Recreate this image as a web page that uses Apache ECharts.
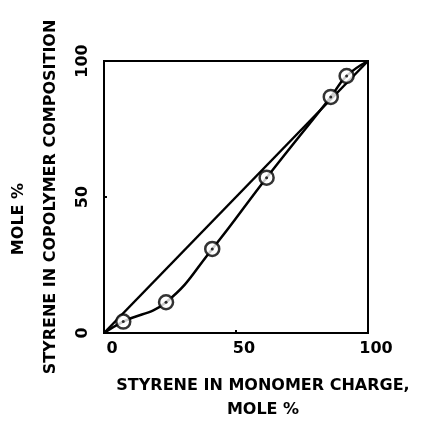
<!DOCTYPE html>
<html>
<head>
<meta charset="utf-8">
<script src="https://cdn.jsdelivr.net/npm/echarts@6/dist/echarts.min.js"></script>
<style>
  html, body { margin: 0; padding: 0; background: #fff; }
  #main { width: 428px; height: 429px; }
</style>
</head>
<body>
<div id="main"></div>
<script>
// measured points (styrene in charge vs. in copolymer, mole %)
const chargePct = [7.3, 23.5, 41.0, 61.6, 85.9, 91.9];
const copolymerPct = [4.2, 11.3, 30.9, 57.1, 86.8, 94.5];
const diagonal = [[0, 0], [100, 100]];
const axisTicks = [0, 50, 100];

const pts = chargePct.map((x, i) => [x, copolymerPct[i]]);
const curve = [[0, 0]].concat(pts, [[100, 100]]);

const font = 'DejaVu Sans';
const labelStyle = { color: '#000', fontFamily: font, fontWeight: 'bold', fontSize: 16 };

var myChart = echarts.init(document.getElementById('main'), null, { renderer: 'canvas' });
myChart.setOption({
  backgroundColor: '#fff',
  animation: false,
  grid: {
    left: 104, right: 60, top: 61, bottom: 96,
    outerBoundsMode: 'none', containLabel: false,
    show: true, borderColor: '#000', borderWidth: 2
  },
  xAxis: {
    type: 'value', min: 0, max: 100, interval: 50,
    name: 'STYRENE IN MONOMER CHARGE,\nMOLE %',
    nameLocation: 'middle', nameGap: 41,
    nameTextStyle: Object.assign({}, labelStyle, { lineHeight: 24, padding: [0, 0, 0, 54] }),
    axisLine: { lineStyle: { color: '#000', width: 2 } },
    axisTick: { inside: true, length: 3, lineStyle: { color: '#000', width: 2 } },
    splitLine: { show: false },
    axisLabel: Object.assign({}, labelStyle, { margin: 8, padding: [0, 0, 0, 16], formatter: v => axisTicks.indexOf(v) >= 0 ? String(v) : '' })
  },
  yAxis: {
    type: 'value', min: 0, max: 100, interval: 50,
    name: '{a|MOLE %}\n{b|STYRENE IN COPOLYMER COMPOSITION}',
    nameLocation: 'middle', nameGap: 33,
    nameTextStyle: Object.assign({}, labelStyle, {
      lineHeight: 32,
      rich: {
        a: Object.assign({}, labelStyle, { lineHeight: 32, padding: [0, 44, 0, 0] }),
        b: Object.assign({}, labelStyle, { lineHeight: 32 })
      }
    }),
    axisLine: { lineStyle: { color: '#000', width: 2 } },
    axisTick: { inside: true, length: 3, lineStyle: { color: '#000', width: 2 } },
    splitLine: { show: false },
    axisLabel: Object.assign({}, labelStyle, { rotate: 90, margin: 13, formatter: v => axisTicks.indexOf(v) >= 0 ? String(v) : '' })
  },
  series: [
    {
      type: 'line', data: diagonal, symbol: 'none',
      lineStyle: { color: '#000', width: 2.5 }, z: 2
    },
    {
      type: 'line', data: curve, smooth: 0.45, symbol: 'none',
      lineStyle: { color: '#000', width: 2.5 }, z: 3
    },
    {
      type: 'scatter', data: pts, symbol: 'circle', symbolSize: 14,
      itemStyle: { color: '#fff', borderColor: '#000', borderWidth: 2.5 }, z: 4
    },
    {
      type: 'scatter', data: pts, symbol: 'circle', symbolSize: 3,
      itemStyle: { color: '#000' }, z: 5
    }
  ]
});
</script>
</body>
</html>
